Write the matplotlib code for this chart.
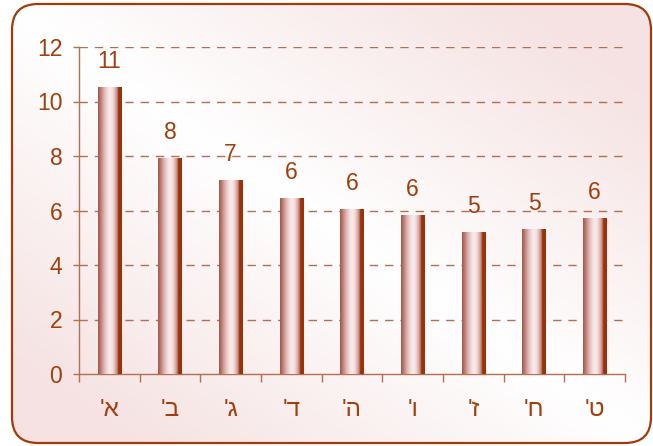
import numpy as np
import matplotlib.pyplot as plt
from matplotlib.colors import LinearSegmentedColormap
from matplotlib.patches import FancyBboxPatch

plt.rcParams['font.family'] = ['Liberation Sans', 'DejaVu Sans']

# data
categories = ["'א", "'ב", "'ג", "'ד", "'ה", "'ו", "'ז", "'ח", "'ט"]
values = [10.5, 7.9, 7.1, 6.45, 6.05, 5.8, 5.2, 5.3, 5.7]
yticks = [0, 2, 4, 6, 8, 10, 12]

txt = '#a13e0c'
line = '#b56e50'

W, H = 653, 446
fig = plt.figure(figsize=(W / 100, H / 100), dpi=100)
fig.patch.set_facecolor('white')

# rounded frame with a soft diagonal pink gradient
bg = fig.add_axes([0, 0, 1, 1])
bg.set_xlim(0, W)
bg.set_ylim(H, 0)
bg.axis('off')
yy, xx = np.mgrid[0:H, 0:W]
d = xx / W - yy / H  # zero along the top-left/bottom-right diagonal
t = np.clip(np.abs(d) * 1.3, 0, 1)
white = np.array([1.0, 1.0, 1.0])
pink = np.array([0.965, 0.89, 0.89])
img = white + (pink - white) * t[..., None]
im = bg.imshow(img, extent=[0, W, H, 0], zorder=0)
frame = FancyBboxPatch((12, 4), 639, 439, boxstyle='round,pad=0,rounding_size=26',
                       fc='none', ec='#a33a0c', lw=1.6, zorder=2)
bg.add_patch(frame)
im.set_clip_path(frame)

ax = fig.add_axes([79 / W, 72 / H, 546 / W, 327 / H])
ax.patch.set_alpha(0)
n = len(categories)

# cylinder shading for the bars
cyl = LinearSegmentedColormap.from_list('cyl', [
    (0.0, '#a25848'), (0.1, '#b87a70'), (0.24, '#dcb0ae'), (0.4, '#f3dede'),
    (0.52, '#faecec'), (0.64, '#f0d6d6'), (0.76, '#d0a09c'), (0.84, '#b36c5e'),
    (0.845, '#9c3208'), (1.0, '#9c3208')])
grad = np.linspace(0, 1, 64).reshape(1, -1)
bw = 0.39
for i, v in enumerate(values):
    x = i + 0.5
    ax.imshow(grad, cmap=cyl, aspect='auto', extent=[x - bw / 2, x + bw / 2, 0, v],
              zorder=3, interpolation='bilinear')
    lab = int(np.floor(v + 0.5))
    ax.annotate(str(lab), (x, v), xytext=(0, 10.5), textcoords='offset points',
                ha='center', va='bottom', fontsize=16.5, color=txt, zorder=4)

ax.set_xlim(0, n)
ax.set_ylim(0, 12)
ax.set_yticks(yticks)
for y in yticks[1:]:
    ax.axhline(y, color=line, lw=1, dashes=(6, 5), zorder=1)

for s in ['top', 'right']:
    ax.spines[s].set_visible(False)
for s in ['left', 'bottom']:
    ax.spines[s].set_color(line)
    ax.spines[s].set_linewidth(1)

ax.set_xticks(np.arange(n + 1))
ax.set_xticklabels([])
ax.set_xticks(np.arange(n) + 0.5, minor=True)
ax.set_xticklabels(categories, minor=True, fontsize=17.5, color=txt)
ax.tick_params(axis='x', which='major', length=6, color=line, width=1)
ax.tick_params(axis='x', which='minor', length=0, pad=18)
ax.tick_params(axis='y', length=4, color=line, width=1, labelsize=16.5,
               labelcolor=txt, pad=8)

fig.savefig('out.png', dpi=100)
